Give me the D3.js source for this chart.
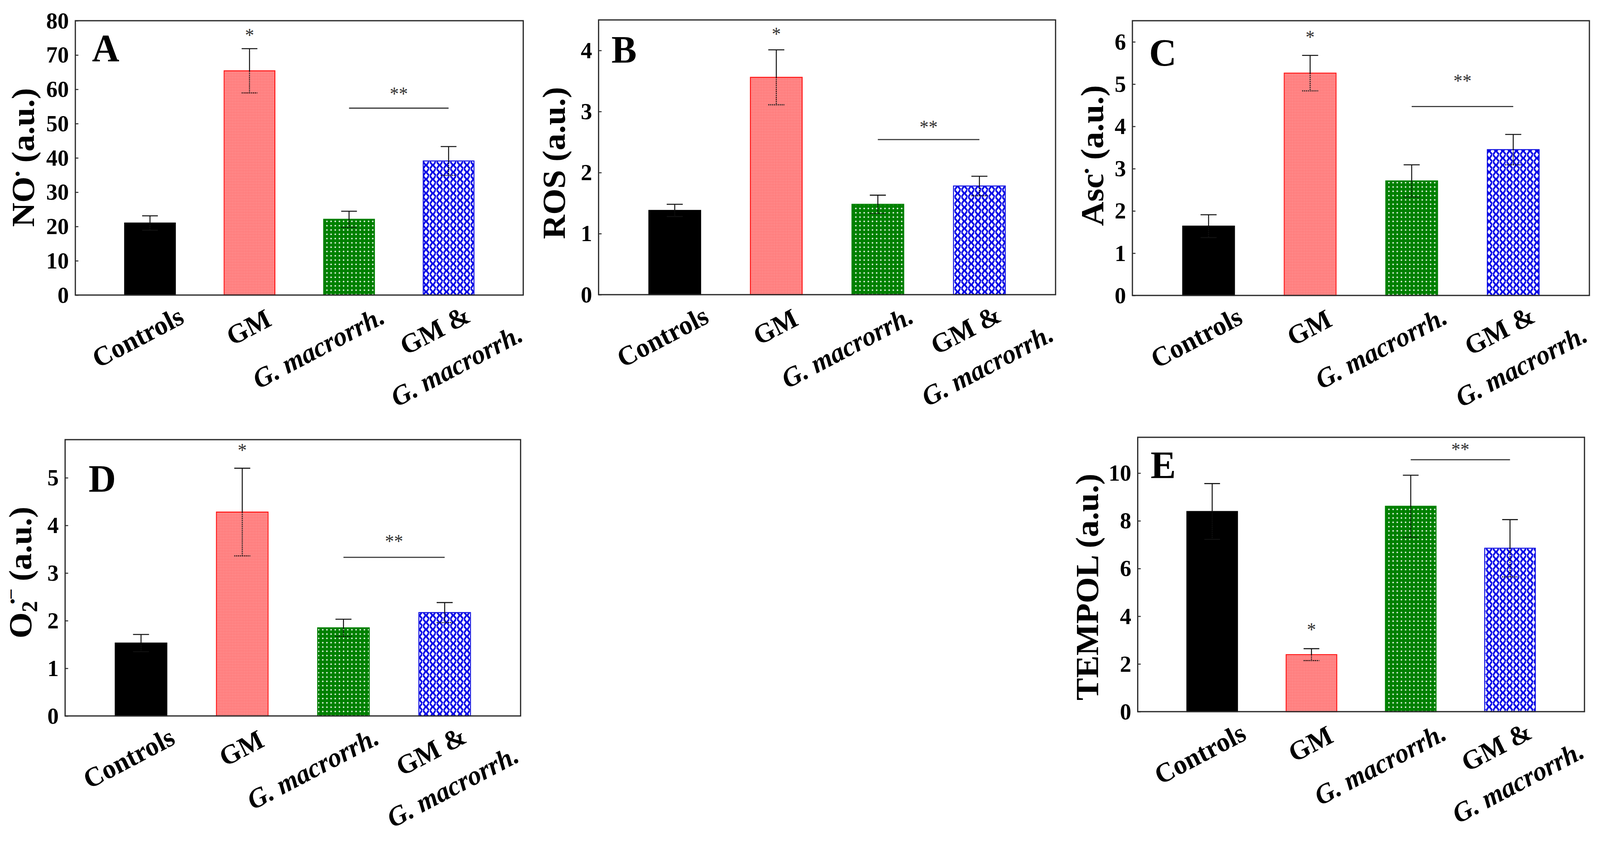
<!DOCTYPE html>
<html><head><meta charset="utf-8">
<script src="https://cdn.jsdelivr.net/npm/d3@7"></script>
<style>
html,body{margin:0;padding:0;background:#fff;width:100%;height:100%;overflow:hidden;}
svg{display:block;width:100vw;height:100vh;}
</style>
</head><body>
<svg id="chart" viewBox="0 0 4226 2152" preserveAspectRatio="none"></svg>
<script>
// ---------------- DATA ----------------
const categories = ["Controls", "GM", "G. macrorrh.", "GM & G. macrorrh."];

const noValues = [21.0, 65.4, 22.1, 39.1];
const noErrors = [2.1, 6.45, 2.35, 4.2];
const noTicks = [0, 10, 20, 30, 40, 50, 60, 70, 80];

const rosValues = [1.38, 3.56, 1.48, 1.78];
const rosErrors = [0.10, 0.45, 0.15, 0.16];
const rosTicks = [0, 1, 2, 3, 4];

const ascValues = [1.64, 5.26, 2.71, 3.45];
const ascErrors = [0.27, 0.42, 0.38, 0.36];
const ascTicks = [0, 1, 2, 3, 4, 5, 6];

const o2Values = [1.53, 4.28, 1.85, 2.17];
const o2Errors = [0.18, 0.92, 0.18, 0.21];
const o2Ticks = [0, 1, 2, 3, 4, 5];

const tempolValues = [8.39, 2.39, 8.61, 6.85];
const tempolErrors = [1.17, 0.25, 1.30, 1.20];
const tempolTicks = [0, 2, 4, 6, 8, 10];

const panelLetters = ["A", "B", "C", "D", "E"];
const yMaxima = [80, 4.5, 6.5, 5.8, 11.5];
const starLevels = [76.4, 4.30, 6.16, 5.62, 3.52];      // "*" over GM
const doubleStarLevels = [59.3, 2.78, 5.12, 3.71, 11.07]; // "**" text
const bracketLevels = [54.5, 2.54, 4.47, 3.33, 10.56];  // line under "**"

// ---------------- LAYOUT ----------------
const frames = [
  {x0: 199,  x1: 1382, y0: 53,   y1: 755,  lx: 60,   ly: 403,  letX: 243,  letY: 157},
  {x0: 1581, x1: 2788, y0: 51,   y1: 754,  lx: 1462, ly: 417,  letX: 1615, letY: 160},
  {x0: 2991, x1: 4198, y0: 53,   y1: 756,  lx: 2884, ly: 398,  letX: 3035, letY: 168},
  {x0: 172,  x1: 1375, y0: 1125, y1: 1832, lx: 52,   ly: 1465, letX: 234,  letY: 1258},
  {x0: 3005, x1: 4185, y0: 1119, y1: 1821, lx: 2870, ly: 1502, letX: 3039, letY: 1223}
];
const labelDx = [94, 62, 99, 62];
const labelDy = [70, 76, 69, 66];
const LINE2_DX = 201, LINE2_DY = 115, LABEL_ROT = -27, LABEL_SIZE = 70;

const panels = [
  {values: noValues, errors: noErrors, ticks: noTicks, ylabel: "NO"},
  {values: rosValues, errors: rosErrors, ticks: rosTicks, ylabel: "ROS"},
  {values: ascValues, errors: ascErrors, ticks: ascTicks, ylabel: "Asc"},
  {values: o2Values, errors: o2Errors, ticks: o2Ticks, ylabel: "O2"},
  {values: tempolValues, errors: tempolErrors, ticks: tempolTicks, ylabel: "TEMPOL"}
];

const FONT = "'Liberation Serif','Times New Roman',serif";
const svg = d3.select("#chart");

// ---------------- PATTERNS ----------------
const defs = svg.append("defs");
const pr = defs.append("pattern").attr("id", "pRed").attr("patternUnits", "userSpaceOnUse")
  .attr("width", 4).attr("height", 4);
pr.append("rect").attr("width", 4).attr("height", 4).attr("fill", "#ff6e6e");
pr.append("circle").attr("cx", 2).attr("cy", 2).attr("r", 1.1).attr("fill", "#ffd2d2");

const pg = defs.append("pattern").attr("id", "pGreen").attr("patternUnits", "userSpaceOnUse")
  .attr("width", 11).attr("height", 11);
pg.append("rect").attr("width", 11).attr("height", 11).attr("fill", "#008000");
pg.append("rect").attr("x", 3.5).attr("y", 4.5).attr("width", 4).attr("height", 2).attr("fill", "#fff");
pg.append("rect").attr("x", 4.5).attr("y", 3.5).attr("width", 2).attr("height", 4).attr("fill", "#fff");

const pb = defs.append("pattern").attr("id", "pBlue").attr("patternUnits", "userSpaceOnUse")
  .attr("width", 18).attr("height", 18);
pb.append("rect").attr("width", 18).attr("height", 18).attr("fill", "#fff");
const weave = [[3,2,8,8],[11,8,15,2],[3,16,7,10],[11,10,16,16]];
weave.forEach(s => pb.append("line").attr("x1", s[0]).attr("y1", s[1]).attr("x2", s[2]).attr("y2", s[3])
  .attr("stroke", "#0000e6").attr("stroke-width", 4.4).attr("stroke-linecap", "round"));

const fills = ["#000", "url(#pRed)", "url(#pGreen)", "url(#pBlue)"];
const strokes = ["#000", "#ff1a1a", "#008000", "#1010e0"];

// ---------------- DRAW ----------------
panels.forEach((p, pi) => {
  const f = frames[pi];
  const g = svg.append("g");
  const x = d3.scaleBand().domain(categories).range([f.x0, f.x1])
    .paddingInner(0.49).paddingOuter(0.495);
  const y = d3.scaleLinear().domain([0, yMaxima[pi]]).range([f.y1, f.y0]);
  const bw = x.bandwidth();
  const cx = c => x(c) + bw / 2;

  // bars
  g.selectAll("rect.bar").data(categories).join("rect")
    .attr("x", d => x(d)).attr("width", bw)
    .attr("y", (d, i) => y(p.values[i]))
    .attr("height", (d, i) => y(0) - y(p.values[i]))
    .attr("fill", (d, i) => fills[i])
    .attr("stroke", (d, i) => strokes[i]).attr("stroke-width", 2.5);

  // error bars
  const capW = bw * 0.31;
  categories.forEach((c, i) => {
    const v = p.values[i], e = p.errors[i];
    const xc = cx(c);
    g.append("line").attr("x1", xc).attr("x2", xc).attr("y1", y(v + e)).attr("y2", y(v))
      .attr("stroke", "#111").attr("stroke-width", 2.6);
    g.append("line").attr("x1", xc).attr("x2", xc).attr("y1", y(v)).attr("y2", y(v - e))
      .attr("stroke", "#111").attr("stroke-width", 2.6).attr("stroke-dasharray", "3,2");
    g.append("line").attr("x1", xc - capW / 2).attr("x2", xc + capW / 2).attr("y1", y(v + e)).attr("y2", y(v + e))
      .attr("stroke", "#111").attr("stroke-width", 2.6);
    g.append("line").attr("x1", xc - capW / 2).attr("x2", xc + capW / 2).attr("y1", y(v - e)).attr("y2", y(v - e))
      .attr("stroke", "#111").attr("stroke-width", 2.6).attr("stroke-dasharray", i === 0 ? null : "3,2");
  });

  // frame
  g.append("rect").attr("x", f.x0).attr("y", f.y0).attr("width", f.x1 - f.x0).attr("height", f.y1 - f.y0)
    .attr("fill", "none").attr("stroke", "#2a2a2a").attr("stroke-width", 3.2);

  // y axis
  const ax = g.append("g").attr("transform", `translate(${f.x0},0)`)
    .call(d3.axisLeft(y).tickValues(p.ticks).tickSizeInner(-8).tickSizeOuter(0).tickPadding(17)
      .tickFormat(d3.format("d")));
  ax.select(".domain").remove();
  ax.selectAll(".tick line").attr("stroke", "#2a2a2a").attr("stroke-width", 2.5);
  ax.selectAll(".tick text").attr("font-family", FONT).attr("font-weight", "bold")
    .attr("font-size", 60).attr("fill", "#000");

  // y axis label
  const yl = g.append("text").attr("transform", `translate(${f.lx},${f.ly}) rotate(-90)`)
    .attr("text-anchor", "middle").attr("dy", "0.35em")
    .attr("font-family", FONT).attr("font-weight", "bold").attr("font-size", 86).attr("fill", "#000");
  if (p.ylabel === "NO") {
    yl.append("tspan").text("NO");
    yl.append("tspan").attr("dy", -30).attr("font-size", 40).text("•");
    yl.append("tspan").attr("dy", 30).text(" (a.u.)");
  } else if (p.ylabel === "Asc") {
    yl.append("tspan").text("Asc");
    yl.append("tspan").attr("dy", -30).attr("font-size", 40).text("•");
    yl.append("tspan").attr("dy", 30).text(" (a.u.)");
  } else if (p.ylabel === "O2") {
    yl.append("tspan").text("O");
    yl.append("tspan").attr("dy", 16).attr("font-size", 58).text("2");
    yl.append("tspan").attr("dy", -52).attr("dx", -8).attr("font-size", 40).text("•");
    yl.append("tspan").attr("dy", -6).attr("font-size", 46).text("–");
    yl.append("tspan").attr("dy", 42).text(" (a.u.)");
  } else {
    yl.text(p.ylabel + " (a.u.)");
  }

  // panel letter
  g.append("text").attr("x", f.letX).attr("y", f.letY)
    .attr("font-family", FONT).attr("font-weight", "bold").attr("font-size", 100).attr("fill", "#000")
    .text(panelLetters[pi]);

  // x category labels
  categories.forEach((c, i) => {
    const parts = c.split(" & ");
    const italic = c.startsWith("G.");
    const ax0 = cx(c) + labelDx[i], ay0 = f.y1 + labelDy[i];
    g.append("text").attr("transform", `translate(${ax0},${ay0}) rotate(${LABEL_ROT})`)
      .attr("text-anchor", "end").attr("font-family", FONT).attr("font-weight", "bold")
      .attr("font-style", italic ? "italic" : "normal").attr("font-size", LABEL_SIZE).attr("fill", "#000")
      .text(parts.length > 1 ? parts[0] + " &" : c);
    if (parts.length > 1) {
      g.append("text").attr("transform", `translate(${cx(c) + LINE2_DX},${f.y1 + LINE2_DY}) rotate(${LABEL_ROT})`)
        .attr("text-anchor", "end").attr("font-family", FONT).attr("font-weight", "bold")
        .attr("font-style", "italic").attr("font-size", LABEL_SIZE).attr("fill", "#000")
        .text(parts[1]);
    }
  });

  // significance
  g.append("text").attr("x", cx(categories[1])).attr("y", y(starLevels[pi]) + 21)
    .attr("text-anchor", "middle").attr("font-family", FONT).attr("font-size", 48).attr("fill", "#333")
    .text("*");
  const xa = cx(categories[2]), xb = cx(categories[3]);
  g.append("line").attr("x1", xa).attr("x2", xb)
    .attr("y1", y(bracketLevels[pi])).attr("y2", y(bracketLevels[pi]))
    .attr("stroke", "#333").attr("stroke-width", 2.8);
  g.append("text").attr("x", (xa + xb) / 2).attr("y", y(doubleStarLevels[pi]) + 21)
    .attr("text-anchor", "middle").attr("font-family", FONT).attr("font-size", 48).attr("fill", "#333")
    .text("**");
});
</script>
</body></html>
